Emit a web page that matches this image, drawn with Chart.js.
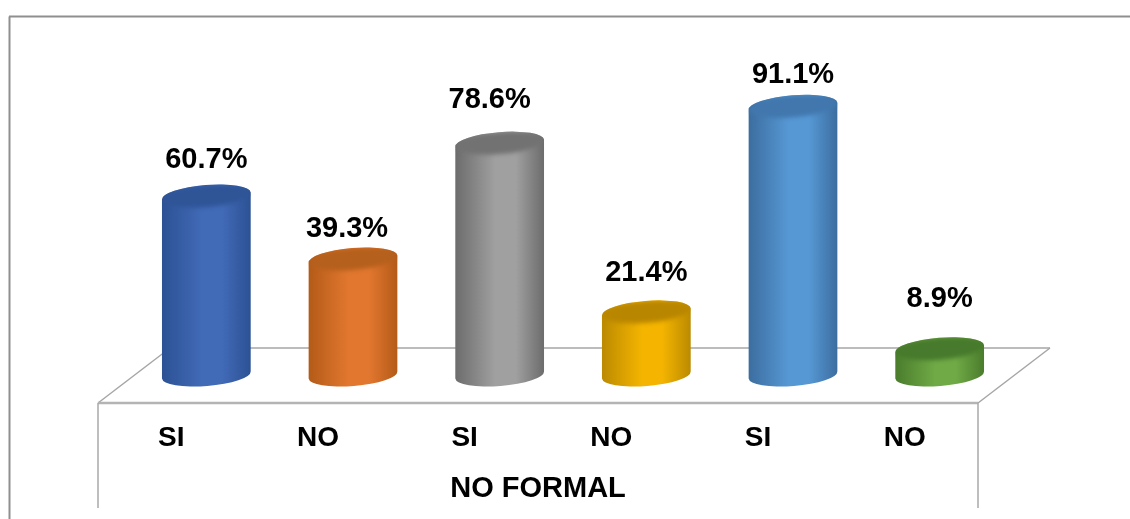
<!DOCTYPE html>
<html>
  <head>
    <meta charset="UTF-8" />
    <title>No formal</title>
    <style>
      body { margin: 0; background: #fff; }
      canvas { display: block; }
    </style>
  </head>
  <body>
    <canvas id="chart" width="1130" height="519"></canvas>
    <script src="https://cdn.jsdelivr.net/npm/chart.js@4"></script>
    <script>
      const categories = ["SI", "NO", "SI", "NO", "SI", "NO"];
      const groupName = "NO FORMAL";
      const percentages = [60.7, 39.3, 78.6, 21.4, 91.1, 8.9];

      // edge, middle, lid colours for each cylinder
      const edgeColors = ["#2c5294", "#b35b18", "#6c6c6c", "#bb8a00", "#3c6d9f", "#4a7c2c"];
      const midColors = ["#416ab7", "#e2772f", "#a0a0a0", "#f4b400", "#5698d4", "#70aa46"];
      const lidColors = ["#2f5597", "#b5601d", "#727272", "#b98600", "#4177ad", "#477a2c"];

      // value labels are nudged by hand, they don't sit at a fixed gap above the bars
      const labelShiftX = [0, -6, -10, 0, 0, 0];
      const labelShiftY = [-36, -30, -43, -39, -31, -50];

      // the bars stand half way back on the floor
      const depthX = 35;
      const depthY = -28;
      const floorBackX = 72;
      const floorBackY = -55;
      const font = '"Liberation Sans", Arial, sans-serif';

      function line(ctx, x1, y1, x2, y2, color, width) {
        ctx.strokeStyle = color;
        ctx.lineWidth = width;
        ctx.beginPath();
        ctx.moveTo(x1, y1);
        ctx.lineTo(x2, y2);
        ctx.stroke();
      }

      const floorPlugin = {
        id: "floor",
        beforeDatasetsDraw(chart) {
          const { ctx, chartArea } = chart;
          const { left, right, bottom } = chartArea;
          const backY = bottom + floorBackY;
          ctx.save();
          // outer frame, open on the right and bottom
          line(ctx, 9.5, 519, 9.5, 16.5, "#8f8f8f", 2);
          line(ctx, 9, 16.5, 1130, 16.5, "#8f8f8f", 2);
          // floor
          line(ctx, left, bottom, left + floorBackX, backY, "#a6a6a6", 1.5);
          line(ctx, right, bottom, right + floorBackX, backY, "#a6a6a6", 1.5);
          line(ctx, left + floorBackX, backY, right + floorBackX, backY, "#a6a6a6", 1.5);
          line(ctx, left, bottom, right, bottom, "#b4b4b4", 2.5);
          // label box sides
          line(ctx, left, bottom, left, 508, "#a8a8a8", 1.5);
          line(ctx, right, bottom, right, 508, "#a8a8a8", 1.5);
          ctx.restore();
        },
      };

      const cylinderPlugin = {
        id: "cylinders",
        afterDatasetsDraw(chart) {
          const { ctx } = chart;
          const tilt = -0.08;
          const ry = 11;
          chart.getDatasetMeta(0).data.forEach((bar, i) => {
            const cx = bar.x + depthX;
            const rx = bar.width / 2;
            const topY = bar.y + depthY;
            const baseY = bar.base + depthY;

            const body = ctx.createLinearGradient(cx - rx, 0, cx + rx, 0);
            body.addColorStop(0, edgeColors[i]);
            body.addColorStop(0.45, midColors[i]);
            body.addColorStop(0.68, midColors[i]);
            body.addColorStop(1, edgeColors[i]);

            ctx.save();
            ctx.fillStyle = body;
            ctx.beginPath();
            ctx.ellipse(cx, topY, rx, ry, tilt, Math.PI, 0, false);
            ctx.ellipse(cx, baseY, rx, ry, tilt, 0, Math.PI, false);
            ctx.closePath();
            ctx.fill();

            // lid fades into the body, so blur it inside the cylinder outline
            ctx.clip();
            ctx.filter = "blur(2px)";
            ctx.fillStyle = lidColors[i];
            ctx.beginPath();
            ctx.ellipse(cx, topY, rx, ry, tilt, 0, Math.PI * 2);
            ctx.fill();
            ctx.restore();

            ctx.save();
            ctx.fillStyle = "#000";
            ctx.font = "bold 29px " + font;
            ctx.textAlign = "center";
            ctx.textBaseline = "middle";
            ctx.fillText(percentages[i].toFixed(1) + "%", cx + labelShiftX[i], topY + labelShiftY[i]);
            ctx.restore();
          });
        },
      };

      new Chart(document.getElementById("chart"), {
        type: "bar",
        data: {
          labels: categories,
          datasets: [{ data: percentages, backgroundColor: "transparent", barThickness: 89 }],
        },
        options: {
          responsive: false,
          animation: false,
          layout: { padding: { left: 98, right: 152, top: 108, bottom: 0 } },
          plugins: { legend: { display: false }, tooltip: { enabled: false } },
          scales: {
            y: { display: false, min: 0, max: 100 },
            x: {
              grid: { display: false },
              border: { display: false },
              afterFit(scale) {
                scale.height = 116;
              },
              ticks: {
                color: "#000",
                padding: 10,
                maxRotation: 0,
                autoSkip: false,
                font: { family: font, size: 28, weight: "bold" },
              },
              title: {
                display: true,
                text: groupName,
                color: "#000",
                padding: { top: 0, bottom: 13 },
                font: { family: font, size: 29, weight: "bold" },
              },
            },
          },
        },
        plugins: [floorPlugin, cylinderPlugin],
      });
    </script>
  </body>
</html>
